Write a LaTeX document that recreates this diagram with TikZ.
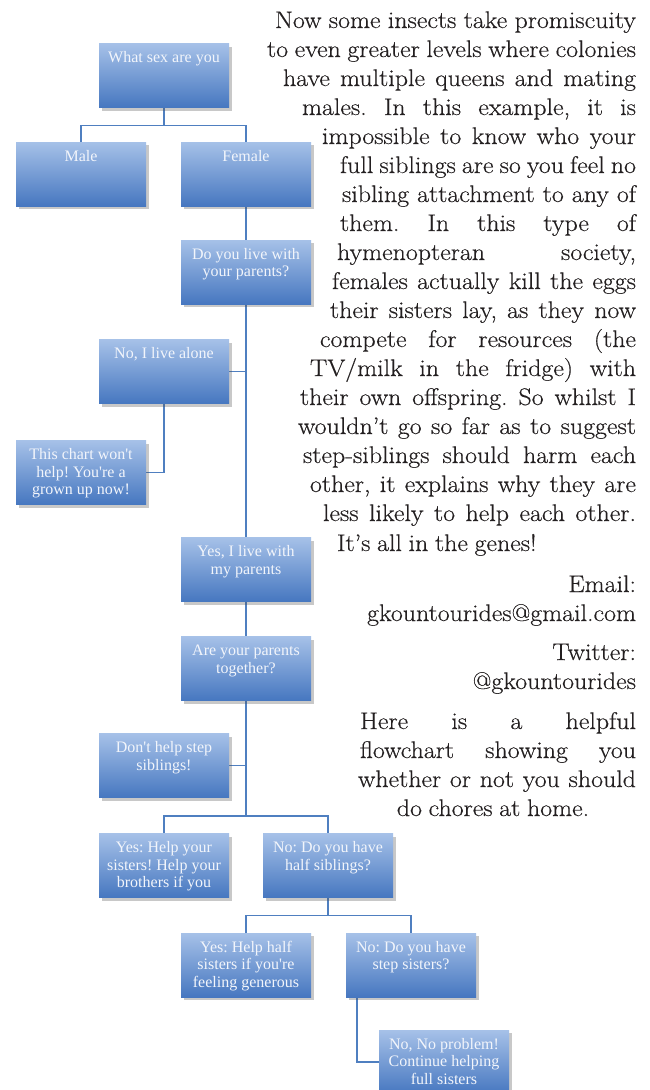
\documentclass[tikz,border=0pt]{standalone}
\usepackage{fontspec}
\newfontfamily\boxfont{Liberation Serif}
\newfontfamily\bodyfont{Latin Modern Roman}[FakeStretch=1.08, WordSpace=0.85, FakeBold=0.4, Ligatures=TeX]
\usetikzlibrary{shadows,calc}
\pgfdeclarelayer{bgfill}
\pgfdeclarelayer{background}
\pgfsetlayers{bgfill,background,main}
\definecolor{boxtop}{HTML}{A6C1E8}
\definecolor{boxbot}{HTML}{4677C0}
\definecolor{linec}{HTML}{4F7FC0}
\definecolor{txt}{HTML}{231F20}
\definecolor{boxtxt}{HTML}{F2F5FB}
\newcommand{\bxt}[1]{\parbox[c][64pt][t]{130pt}{\centering\boxfont\fontsize{16}{17.5}\selectfont\rule{0pt}{19pt}#1}}
\newcommand{\jl}[2]{\makebox[#1pt][s]{#2}}
\frenchspacing
\begin{document}
\begin{tikzpicture}[x=1pt,y=-1pt,
  fbox/.style={inner sep=0pt, outer sep=0pt, top color=boxtop, bottom color=boxbot, text=boxtxt,
    drop shadow={shadow xshift=2.5pt, shadow yshift=-3pt, opacity=0.3, fill=black!70}},
  conn/.style={draw=linec, line width=1.2pt},
  body/.style={font=\bodyfont\frenchspacing\fontsize{24}{29}\selectfont, text=txt, inner sep=0pt, outer sep=0pt, anchor=base east}
]
\useasboundingbox (0,0) rectangle (650,1090);
\begin{pgfonlayer}{bgfill}
\fill[white] (0,0) rectangle (650,1090);
\end{pgfonlayer}

% flowchart boxes
\node[fbox] (A) at (164,75.5) {\bxt{What sex are you}};
\node[fbox] (B) at (81,174) {\bxt{Male}};
\node[fbox] (C) at (246,174) {\bxt{Female}};
\node[fbox] (D) at (246,272) {\bxt{Do you live with\\your parents?}};
\node[fbox] (E) at (164,371.5) {\bxt{No, I live alone}};
\node[fbox] (F) at (81,472.5) {\bxt{This chart won't\\help! You're a\\grown up now!}};
\node[fbox] (G) at (246,569.5) {\bxt{Yes, I live with\\my parents}};
\node[fbox] (H) at (246,668.5) {\bxt{Are your parents\\together?}};
\node[fbox] (I) at (164,765.5) {\bxt{Don't help step\\siblings!}};
\node[fbox] (J) at (164,865.5) {\bxt{Yes: Help your\\sisters! Help your\\brothers if you}};
\node[fbox] (K) at (328,865.5) {\bxt{No: Do you have\\half siblings?}};
\node[fbox] (L) at (246,965) {\bxt{Yes: Help half\\sisters if you're\\feeling generous}};
\node[fbox] (M) at (411,965) {\bxt{No: Do you have\\step sisters?}};
\node[fbox] (N) at (444,1062) {\bxt{No, No problem!\\Continue helping\\full sisters}};

% connectors
\begin{pgfonlayer}{background}
\draw[conn] (A.south) -- ++(0,18) coordinate (a1) -| (B.north);
\draw[conn] (a1) -| (C.north);
\draw[conn] (C.south) -- (D.north);
\draw[conn] (D.south) -- (G.north);
\draw[conn] (E.east) -- (E.east -| D.south);
\draw[conn] (E.south) |- (F.east);
\draw[conn] (G.south) -- (H.north);
\coordinate (h1) at (246,816);
\draw[conn] (H.south) -- (h1) -| (J.north);
\draw[conn] (h1) -| (K.north);
\draw[conn] (I.east) -- (I.east -| H.south);
\draw[conn] (K.south) -- ++(0,18) coordinate (k1) -| (L.north);
\draw[conn] (k1) -| (M.north);
\coordinate (m1) at ($(M.south west)+(11,0)$);
\draw[conn] (m1) |- (N.west);
\end{pgfonlayer}

% body text
\node[body] (t1) at (636,28) {\jl{361}{Now some insects take promiscuity}};
\node[body] (t2) at (636,57) {\jl{369}{to even greater levels where colonies}};
\node[body] (t3) at (636,86) {\jl{353}{have multiple queens and mating}};
\node[body] (t4) at (636,115) {\jl{334}{males. In this example, it is}};
\node[body] (t5) at (636,144) {\jl{314}{impossible to know who your}};
\node[body] (t6) at (636,173) {\jl{296}{full siblings are so you feel no}};
\node[body] (t7) at (636,202) {\jl{294}{sibling attachment to any of}};
\node[body] (t8) at (636,231) {\jl{296}{them. In this type of}};
\node[body] (t9) at (636,260) {\jl{299}{hymenopteran society,}};
\node[body] (t10) at (636,289) {\jl{304}{females actually kill the eggs}};
\node[body] (t11) at (636,318) {\jl{306}{their sisters lay, as they now}};
\node[body] (t12) at (636,347) {\jl{316}{compete for resources (the}};
\node[body] (t13) at (636,376) {\jl{326}{TV/milk in the fridge) with}};
\node[body] (t14) at (636,405) {\jl{336}{their own offspring. So whilst I}};
\node[body] (t15) at (636,434) {\jl{338}{wouldn’t go so far as to suggest}};
\node[body] (t16) at (636,463) {\jl{333}{step-siblings should harm each}};
\node[body] (t17) at (636,492) {\jl{326}{other, it explains why they are}};
\node[body] (t18) at (636,521) {\jl{313}{less likely to help each other.}};
\node[body, anchor=base west] (t19) at (337,551) {It’s all in the genes!};
\node[body] (e1) at (636,592) {Email:};
\node[body] (e2) at (636,621) {gkountourides@gmail.com};
\node[body] (w1) at (636,660) {Twitter:};
\node[body] (w2) at (636,689) {@gkountourides};
\node[body] (h1t) at (636,729) {\jl{276}{Here is a helpful}};
\node[body] (h2t) at (636,758) {\jl{276}{flowchart showing you}};
\node[body] (h3t) at (636,787) {\jl{278}{whether or not you should}};
\node[body, anchor=base] (h4t) at (493,816) {do chores at home.};
\end{tikzpicture}
\end{document}
